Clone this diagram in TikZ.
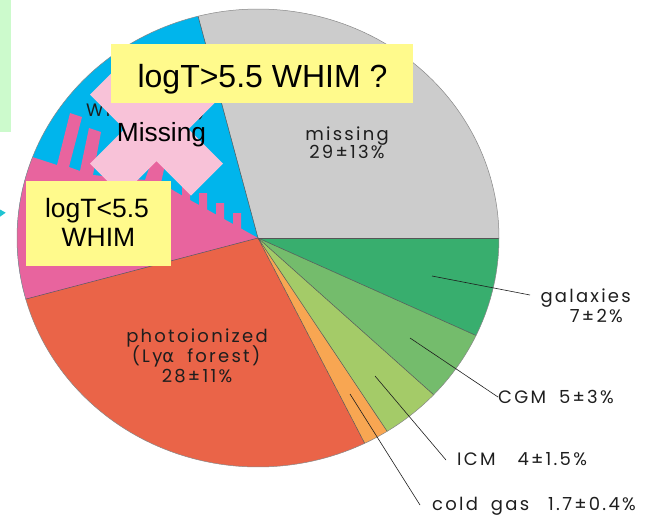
\documentclass[tikz,border=0pt]{standalone}
\usepackage{fontspec}
\setmainfont{Liberation Sans}
\newfontfamily\chartfont[LetterSpace=12.5]{Poppins}
\newfontfamily\greekfont{DejaVu Sans}

\definecolor{cMissing}{RGB}{204,204,204}
\definecolor{cWhim}{RGB}{0,181,236}
\definecolor{cGal}{RGB}{56,174,110}
\definecolor{cCgm}{RGB}{116,188,108}
\definecolor{cIcm}{RGB}{164,203,104}
\definecolor{cCold}{RGB}{248,166,82}
\definecolor{cPhoto}{RGB}{234,100,72}
\definecolor{cHotPink}{RGB}{232,100,158}
\definecolor{cSoftPink}{RGB}{248,194,216}
\definecolor{cNote}{RGB}{255,250,140}
\definecolor{cMint}{RGB}{204,250,204}
\definecolor{cArrow}{RGB}{32,196,210}
\definecolor{cEdge}{RGB}{85,85,85}
\definecolor{cInk}{RGB}{30,30,30}

% filled wedge of the elliptical pie between two parameter angles
\newcommand\drawwedge[3]{%
  \fill[#1] (pc) -- plot[domain=#2:#3,samples=90,variable=\t]
    ({258+241*cos(\t)},{238-229*sin(\t)}) -- cycle;}
% radial edge of the pie at a parameter angle
\newcommand\drawspoke[1]{%
  \draw[edge] (pc) -- ({258+241*cos(#1)},{238-229*sin(#1)});}
% wide word gap used in the wedge labels
\newcommand\wgap{\hspace{13pt}}

\tikzset{
  edge/.style={draw=cEdge,line width=0.5pt},
  note/.style={fill=cNote,draw=none,inner sep=0pt},
  notetext/.style={text=black,inner sep=0pt,anchor=base},
  chartlabel/.style={text=cInk,inner sep=0pt,anchor=base,
    font=\chartfont\fontsize{18}{20}\selectfont},
  leader/.style={draw=cInk,line width=0.6pt},
}

\begin{document}
\begin{tikzpicture}[x=1pt,y=-1pt]
\useasboundingbox (0,0) rectangle (662,517);
\coordinate (pc) at (258,238);

% side decorations at the left border
\fill[cMint] (0,0) rectangle (11,132);
\fill[cArrow] (0,209.5) -- (5.7,212.7) -- (0,216.7) -- cycle;

% pie wedges (percent of 360 degrees)
\drawwedge{cMissing}{0}{104.4}
\drawwedge{cWhim}{104.4}{195.48}
\drawwedge{cPhoto}{195.48}{296.28}
\drawwedge{cCold}{296.28}{302.4}
\drawwedge{cIcm}{302.4}{316.8}
\drawwedge{cCgm}{316.8}{334.8}
\drawwedge{cGal}{334.8}{360}

% original WHIM label, mostly hidden below the overlays
\node[chartlabel] (whimlabel) at (146,116) {WHIM (OVI)};

% hand-drawn overlay on the lower part of the WHIM wedge
\fill[cHotPink] (pc) -- (25.8,299.3)
  -- plot[domain=195.48:159.3,samples=40,variable=\t]
     ({258+241*cos(\t)},{238-229*sin(\t)})
  -- (57,165) -- (70,113) -- (82,117) -- (69,167)
  -- (80,171) -- (89,128) -- (101,132) -- (93,175)
  -- (145,180) -- (152,160) -- (166,160) -- (161,183)
  -- (176,192) -- (182,195.5) -- (182,184) -- (190,184) -- (190,200)
  -- (199,205) -- (199,193) -- (207,193) -- (207,209.5)
  -- (216,214.5) -- (216,203) -- (224,203) -- (224,219)
  -- (233,224) -- (233,213) -- (241,213) -- (241,228.5)
  -- cycle;

% wedge borders
\drawspoke{0}
\drawspoke{104.4}
\drawspoke{195.48}
\drawspoke{296.28}
\drawspoke{302.4}
\drawspoke{316.8}
\drawspoke{334.8}
\draw[edge,draw=cEdge!70] plot[domain=0:360,samples=240,variable=\t]
  ({258+241*cos(\t)},{238-229*sin(\t)}) -- cycle;

% cross-shaped "Missing" patch
\fill[cSoftPink] (156.5,97) -- (191,62.5) -- (223,94.5) -- (188.5,129)
  -- (223,163.5) -- (191,195.5) -- (156.5,161) -- (122,195.5)
  -- (90,163.5) -- (124.5,129) -- (90,94.5) -- (122,62.5) -- cycle;
\node[notetext,font=\fontsize{26.3}{29}\selectfont] (missingnote) at (161.5,141) {Missing};

% yellow notes
\node[note,minimum width=302pt,minimum height=59pt] (hotbox) at (262,73.5) {};
\node[notetext,font=\fontsize{32}{36}\selectfont] (hottext) at (262.5,87) {logT>5.5 WHIM ?};
\node[note,minimum width=145pt,minimum height=85pt] (warmbox) at (98.5,223.5) {};
\node[notetext,font=\fontsize{26.5}{29}\selectfont] (warmtext1) at (97,217) {logT<5.5};
\node[notetext,font=\fontsize{26.5}{29}\selectfont] (warmtext2) at (98.5,246) {WHIM};

% wedge labels
\node[chartlabel] (missing1) at (347,140) {missing};
\node[chartlabel] (missing2) at (347,158) {29±13\%};
\node[chartlabel] (photo1) at (197,342) {photoionized};
\node[chartlabel] (photo2) at (196,362) {(Ly{\greekfont α}\wgap forest)};
\node[chartlabel] (photo3) at (197,382) {28±11\%};
\node[chartlabel,anchor=base east] (gal1) at (631,302) {galaxies};
\node[chartlabel,anchor=base east] (gal2) at (623,322) {7±2\%};
\node[chartlabel,anchor=base west] (cgm) at (498,403) {CGM\wgap 5±3\%};
\node[chartlabel,anchor=base west] (icm) at (457,465) {ICM\hspace{22pt}4±1.5\%};
\node[chartlabel,anchor=base west] (cold) at (432,510) {cold\wgap gas\hspace{19pt}1.7±0.4\%};

% leader lines
\coordinate (galIn) at (432,276);  \coordinate (galOut) at (530,295);
\coordinate (cgmIn) at (410,338);  \coordinate (cgmOut) at (498,397);
\coordinate (icmIn) at (375,376);  \coordinate (icmOut) at (446,460);
\coordinate (coldIn) at (350,394); \coordinate (coldOut) at (420,505);
\draw[leader] (galIn) -- (galOut);
\draw[leader] (cgmIn) -- (cgmOut);
\draw[leader] (icmIn) -- (icmOut);
\draw[leader] (coldIn) -- (coldOut);
\end{tikzpicture}
\end{document}
